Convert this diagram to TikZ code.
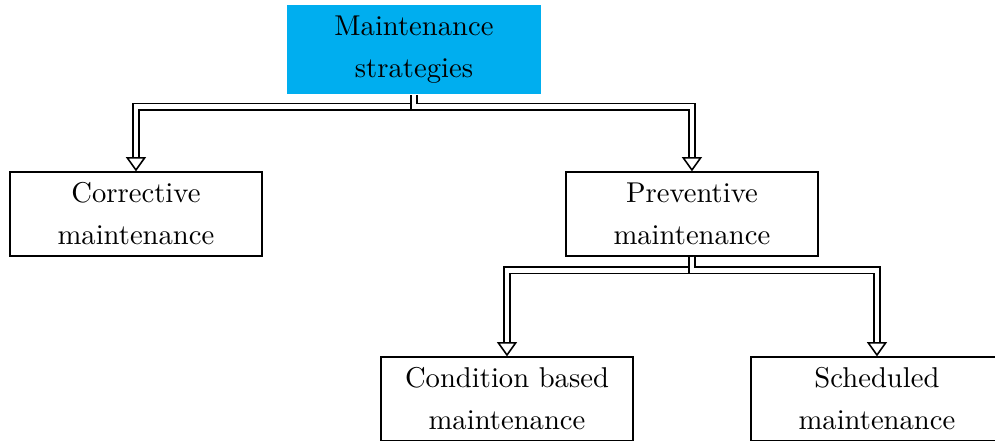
\documentclass[tikz,border=0pt]{standalone}
\usepackage{amsmath, amssymb}
\usepackage{xcolor}
\usepackage{tikz}
\usetikzlibrary{arrows.meta, positioning, calc}
\definecolor{stratblue}{RGB}{0, 174, 239}

\tikzset{
    leafbox/.style={draw, line width=0.7pt, rectangle,
        minimum width=3.09cm, minimum height=1.02cm,
        align=center, font=\linespread{1.22}\selectfont},
    rootbox/.style={leafbox, draw=none, fill=stratblue,
        minimum width=3.12cm, minimum height=1.10cm},
    flow/.style={double, line width=0.55pt, double distance=1.65pt,
        -{Triangle[open, width=7pt, length=5pt]}}
}

\begin{document}
\begin{tikzpicture}
    \useasboundingbox (0,0) rectangle (12.207,-5.410);
    \node[rootbox] (strat) at (5.079,-0.607) {Maintenance\\strategies};
    \node[leafbox] (corr) at (1.668,-2.625) {Corrective\\maintenance};
    \node[leafbox] (prev) at (8.489,-2.625) {Preventive\\maintenance};
    \node[leafbox] (cond) at (6.220,-4.895) {Condition based\\maintenance};
    \node[leafbox] (sched) at (10.759,-4.895) {Scheduled\\maintenance};
    % first level
    \draw[flow] (strat.south) -- ++(0,-0.14) -| (corr.north);
    \draw[flow] (strat.south) -- ++(0,-0.14) -| (prev.north);
    % second level
    \draw[flow] (prev.south) -- ++(0,-0.17) -| (cond.north);
    \draw[flow] (prev.south) -- ++(0,-0.17) -| (sched.north);
\end{tikzpicture}
\end{document}
